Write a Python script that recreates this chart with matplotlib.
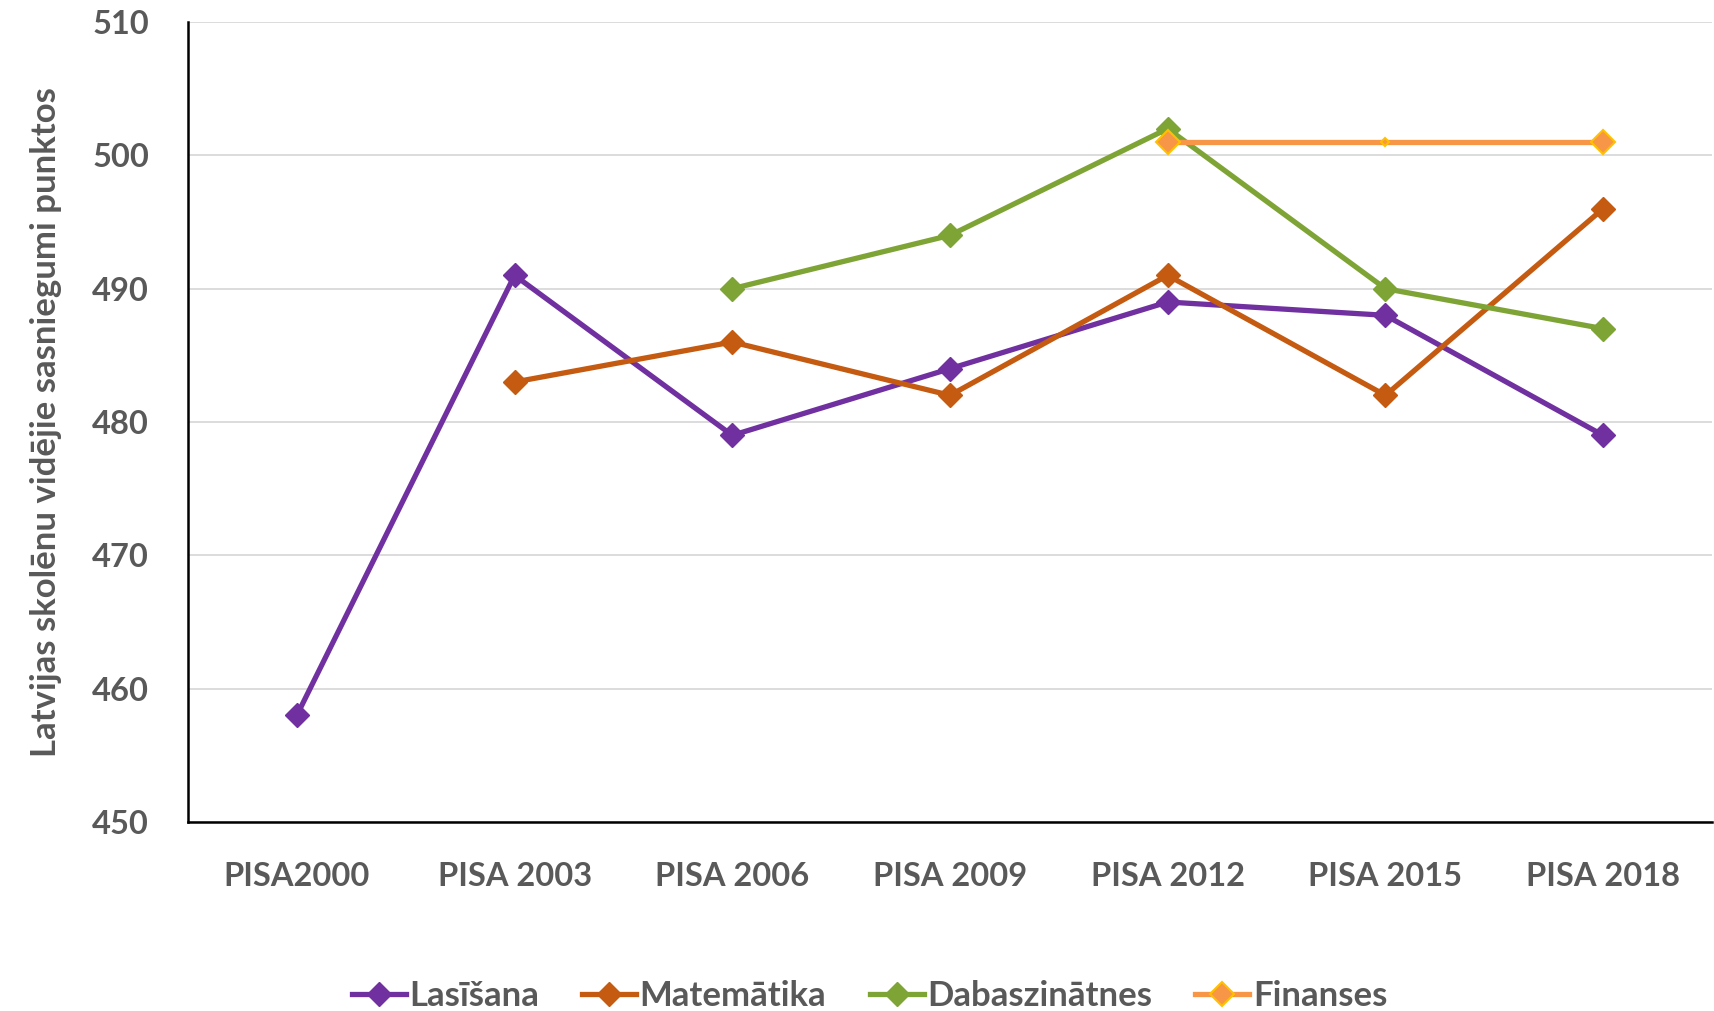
import numpy as np
import matplotlib
matplotlib.use("Agg")
import matplotlib.pyplot as plt

# dati
categories = ["PISA2000", "PISA 2003", "PISA 2006", "PISA 2009", "PISA 2012", "PISA 2015", "PISA 2018"]
lasisana = [458, 491, 479, 484, 489, 488, 479]
matematika = [np.nan, 483, 486, 482, 491, 482, 496]
dabaszinatnes = [np.nan, np.nan, 490, 494, 502, 490, 487]
finanses = [np.nan, np.nan, np.nan, np.nan, 501, 501, 501]
y_ticks = [450, 460, 470, 480, 490, 500, 510]

plt.rcParams['font.family'] = ['Lato', 'DejaVu Sans']
gray = '#595959'

fig = plt.figure(figsize=(17.15, 10.11), dpi=100)
ax = fig.add_axes([188 / 1715, 1 - 822 / 1011, (1712 - 188) / 1715, (822 - 22) / 1011])

x = np.arange(len(categories))
lw = 3.8
ms = 12
ax.plot(x, lasisana, color='#7030A0', lw=lw, marker='D', ms=ms, mec='#7030A0', label='Lasīšana', zorder=3)
ax.plot(x, matematika, color='#C55A11', lw=lw, marker='D', ms=ms, mec='#C55A11', label='Matemātika', zorder=3)
ax.plot(x, dabaszinatnes, color='#7FA436', lw=lw, marker='D', ms=ms, mec='#7FA436', label='Dabaszinātnes', zorder=3)
# Finanses: 2015 marķieris mazāks
ax.plot(x, finanses, color='#F79646', lw=lw, marker='D', ms=ms, mec='#FFC000', mew=1.5,
        markevery=[4, 6], label='Finanses', zorder=4)
ax.plot(x[5], finanses[5], marker='D', ms=4, color='#F79646', mec='#FFC000', mew=1.5, zorder=4)

ax.set_xlim(-0.5, len(categories) - 0.5)
ax.set_ylim(450, 510)
ax.set_yticks(y_ticks)
ax.set_xticks(x)
ax.set_xticklabels(categories)
ax.grid(axis='y', color='#D9D9D9', lw=1.3)
ax.set_axisbelow(True)
for s in ['top', 'right']:
    ax.spines[s].set_visible(False)
for s in ['left', 'bottom']:
    ax.spines[s].set_linewidth(1.8)
    ax.spines[s].set_color('black')
ax.tick_params(axis='both', length=0, colors=gray, labelsize=23.5)
ax.tick_params(axis='x', pad=29)
ax.tick_params(axis='y', pad=28)
for lbl in ax.get_xticklabels() + ax.get_yticklabels():
    lbl.set_fontweight('bold')

ax.set_ylabel('Latvijas skolēnu vidējie sasniegumi punktos', fontsize=25, fontweight='bold',
              color=gray, labelpad=22)

leg = fig.legend(loc='center', bbox_to_anchor=(0.507, 1 - 996 / 1011), ncol=4, frameon=False,
                 handlelength=1.55, columnspacing=1.25, handletextpad=0.1,
                 prop={'weight': 'bold', 'size': 25})
for t in leg.get_texts():
    t.set_color(gray)

fig.savefig('out.png', dpi=100)
